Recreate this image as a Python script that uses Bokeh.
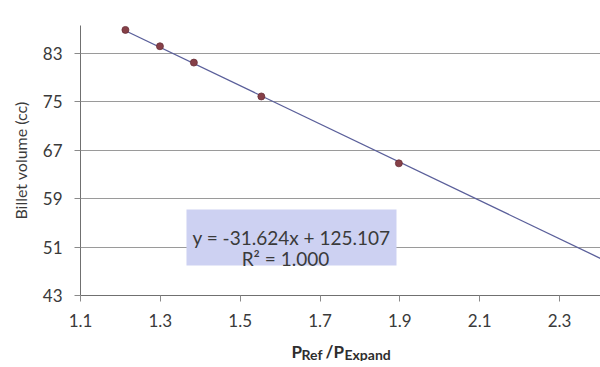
from bokeh.plotting import figure
from bokeh.layouts import column
from bokeh.models import Range1d, FixedTicker, Label, BoxAnnotation
from bokeh.core.properties import value
from bokeh.embed import file_html
from bokeh.resources import INLINE

# ---- data ----
ratio = [1.2125, 1.299, 1.384, 1.553, 1.8975]          # P_Ref / P_Expand
volume = [86.9, 84.2, 81.5, 75.9, 64.85]              # Billet volume (cc)
slope = -31.624
intercept = 125.107
r2 = 1.000
trend_x = [1.2125, 2.45]
trend_y = [slope * v + intercept for v in trend_x]
x_ticks = [1.1, 1.3, 1.5, 1.7, 1.9, 2.1, 2.3]
y_ticks = [43, 51, 59, 67, 75, 83]
x_title_parts = ["P", "Ref", "/", "P", "Expand"]

FONT = "Lato"
TXT = "#3a3a3a"

p = figure(width=600, height=335, output_backend="svg", toolbar_location=None,
           x_range=Range1d(1.1, 2.4026), y_range=Range1d(43, 87.63),
           min_border_left=80, min_border_right=0, min_border_top=25, min_border_bottom=40)
p.outline_line_color = None
p.background_fill_color = "white"

# grid
p.xgrid.grid_line_color = None
p.ygrid.grid_line_color = "#9a9a9a"
p.ygrid.grid_line_width = 1

# axes
for ax in (p.xaxis[0], p.yaxis[0]):
    ax.axis_line_color = "#707070"
    ax.major_tick_line_color = "#8a8a8a"
    ax.minor_tick_line_color = None
    ax.major_tick_in = 0
    ax.major_tick_out = 6
    ax.major_label_text_font = FONT
    ax.major_label_text_font_size = "17px"
    ax.major_label_text_color = TXT
    ax.major_label_standoff = 12

p.xaxis.ticker = FixedTicker(ticks=x_ticks)
p.yaxis.ticker = FixedTicker(ticks=y_ticks)
p.xaxis.major_label_overrides = {t: f"{t:.1f}" for t in x_ticks}
p.yaxis.axis_label = "Billet volume (cc)"
p.yaxis.axis_label_text_font = FONT
p.yaxis.axis_label_text_font_style = "normal"
p.yaxis.axis_label_text_font_size = "16px"
p.yaxis.axis_label_text_color = TXT
p.yaxis.axis_label_standoff = 10

# trendline and points
p.line(trend_x, trend_y, line_color="#5a5f9a", line_width=1.3)
p.scatter(ratio, volume, size=7, fill_color="#864048", line_color="#6a3038", line_width=0.8)

# equation box
box = BoxAnnotation(left=1.3655, right=1.8916, bottom=47.96, top=57.21,
                    fill_color="#cdd1f2", fill_alpha=1.0, line_color=None)
p.add_layout(box)
p.add_layout(Label(x=1.6286, y=52.59, text=f"y = {slope:.3f}x + {intercept:.3f}",
                   text_align="center", text_baseline="alphabetic",
                   text_font=FONT, text_font_size="19px", text_color=TXT))
p.add_layout(Label(x=1.6135, y=49.12, text=f"R² = {r2:.3f}",
                   text_align="center", text_baseline="alphabetic",
                   text_font=FONT, text_font_size="19px", text_color=TXT))

# x-axis title strip (text with subscripts)
t = figure(width=600, height=26, output_backend="svg", toolbar_location=None,
           title=None, x_axis_type=None, y_axis_type=None,
           x_range=Range1d(80, 600), y_range=Range1d(0, 26),
           min_border_left=80, min_border_right=0, min_border_top=0, min_border_bottom=0)
t.grid.visible = False
t.outline_line_color = None
pos_x = [291, 301, 325, 333, 344]
pos_y = [10, 7, 10, 10, 7]
sizes = ["17px", "14px", "17px", "17px", "14px"]
for txt, xx, yy, fs in zip(x_title_parts, pos_x, pos_y, sizes):
    t.text(x=[xx], y=[yy], text=[txt], text_align="left", text_baseline="alphabetic",
           text_font=value(FONT), text_font_style="bold", text_font_size=fs,
           text_color="#2e2e2e")

layout = column(p, t, spacing=0)
open("out.html", "w").write(file_html(layout, INLINE))
